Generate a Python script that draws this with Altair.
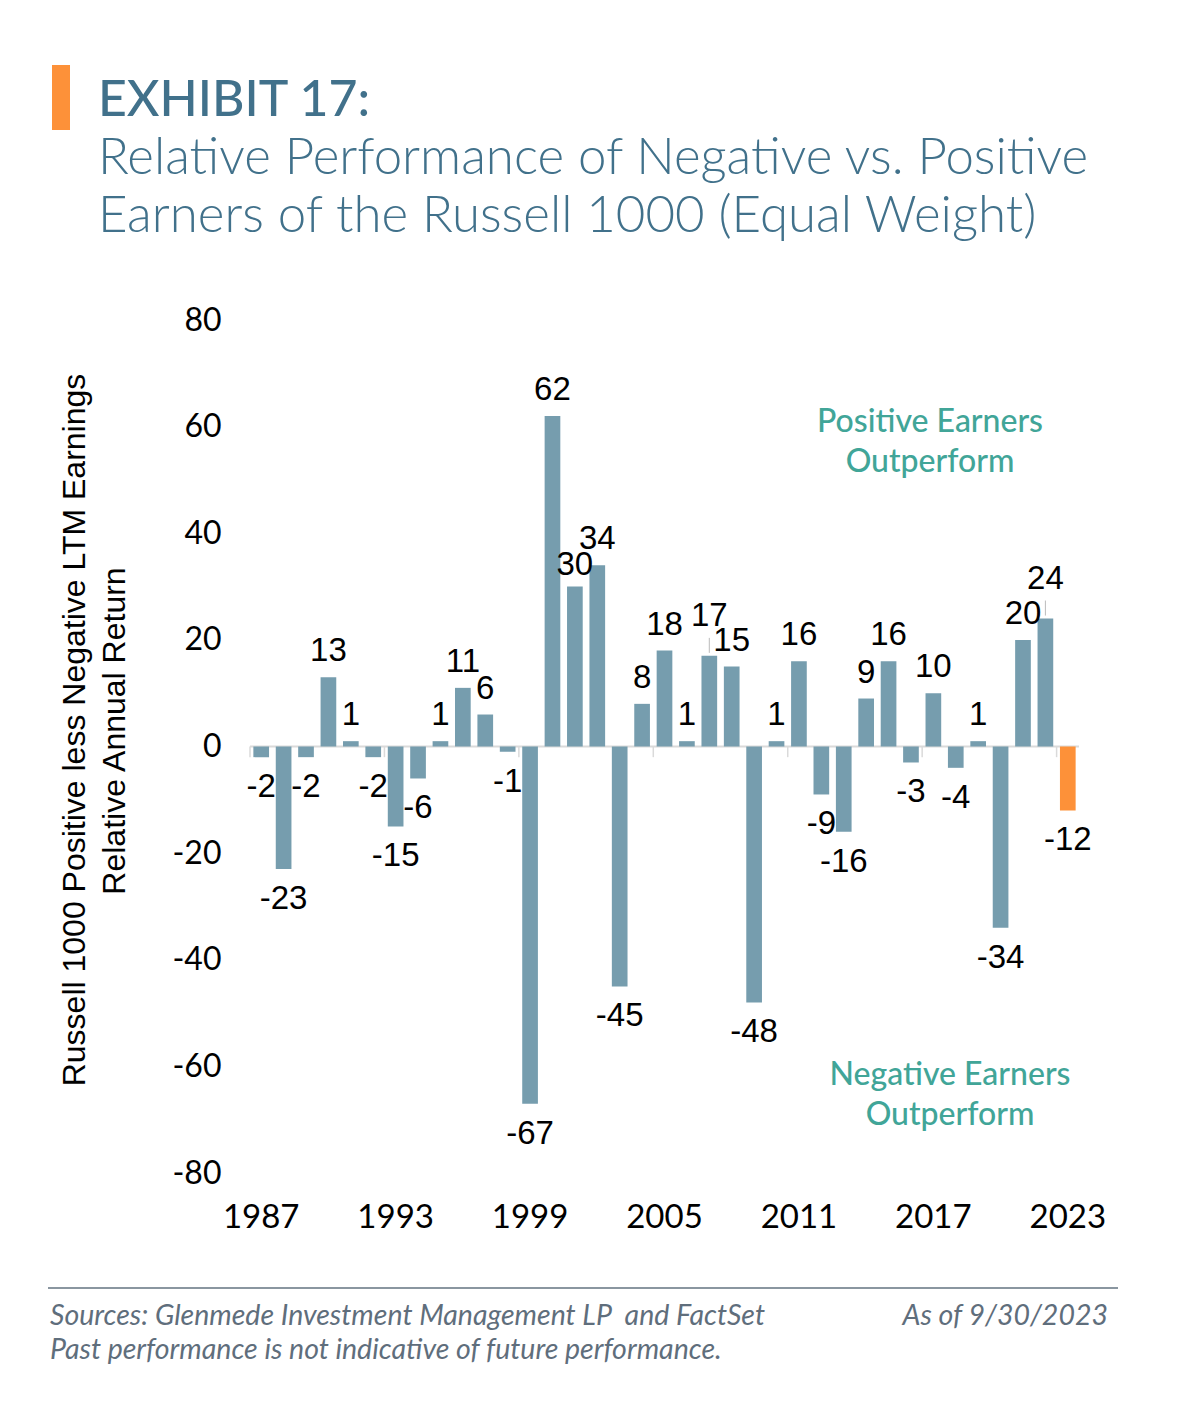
import altair as alt
import pandas as pd

# ---------------- data ----------------
years = list(range(1987, 2024))
values = [-2, -23, -2, 13, 1, -2, -15, -6, 1, 11, 6, -1, -67, 62, 30, 34, -45, 8, 18, 1,
          17, 15, -48, 1, 16, -9, -16, 9, 16, -3, 10, -4, 1, -34, 20, 24, -12]
x_tick_years = [1987, 1993, 1999, 2005, 2011, 2017, 2023]
y_tick_values = [-80, -60, -40, -20, 0, 20, 40, 60, 80]
highlight_year = 2023
lifted_label_years = [2007, 2022]   # labels drawn a bit higher to avoid overlaps
lowered_label_years = [2001]        # label drawn a bit lower

title_text = "EXHIBIT 17:"
subtitle_lines = ["Relative Performance of Negative vs. Positive",
                  "Earners of the Russell 1000 (Equal Weight)"]
y_title_lines = ["Russell 1000 Positive less Negative LTM Earnings",
                 "Relative Annual Return"]
pos_note = ["Positive Earners", "Outperform"]
neg_note = ["Negative Earners", "Outperform"]
source_line = "Sources: Glenmede Investment Management LP\u00a0 and FactSet"
disclaimer_line = "Past performance is not indicative of future performance."
asof_line = "As of 9/30/2023"

# ---------------- styles ----------------
BAR = "#769dae"
ORANGE = "#fd9139"
TITLE_C = "#41718b"
TEAL = "#41a598"
FOOT_C = "#5f6e7c"
ZERO_C = "#dadada"

df = pd.DataFrame({"year": years, "value": values})
df["label"] = df["value"].astype(str)

x_enc = alt.X("year:O",
              scale=alt.Scale(paddingInner=0.3, paddingOuter=0.15),
              axis=alt.Axis(values=x_tick_years, labelAngle=0, labelAlign="center",
                            ticks=False, domain=False,
                            labelFont="Lato", labelFontSize=33, labelColor="black",
                            labelPadding=44, title=None))
y_enc = alt.Y("value:Q",
              scale=alt.Scale(domain=[-80, 80], nice=False, zero=False),
              axis=alt.Axis(values=y_tick_values, grid=False, domain=False, ticks=False,
                            labelFont="Lato", labelFontSize=32, labelColor="black",
                            labelExpr="datum.value + ''",
                            labelPadding=29, title=None))

base = alt.Chart(df)

bars = base.mark_bar().encode(
    x=x_enc, y=y_enc,
    color=alt.condition(alt.datum.year == highlight_year, alt.value(ORANGE), alt.value(BAR)),
)

zero_line = alt.Chart(pd.DataFrame({"value": [0]})).mark_rule(
    color=ZERO_C, strokeWidth=2).encode(y="value:Q")

tick_df = pd.DataFrame({"year": x_tick_years, "value": [0] * len(x_tick_years),
                        "v2": [-2] * len(x_tick_years)})
ticks = alt.Chart(tick_df).mark_rule(color=ZERO_C, strokeWidth=1.5, xOffset=-11.2).encode(
    x="year:O", y="value:Q", y2="v2:Q")

lab_style = dict(font="Liberation Sans", fontSize=33, color="black", baseline="middle")
special = lifted_label_years + lowered_label_years
is_special = alt.FieldOneOfPredicate(field="year", oneOf=special)
pos_labels = base.transform_filter(alt.datum.value >= 0).transform_filter(
    ~is_special).mark_text(dy=-26, **lab_style).encode(x="year:O", y="value:Q", text="label:N")
lifted_labels = base.transform_filter(
    alt.FieldOneOfPredicate(field="year", oneOf=lifted_label_years)).mark_text(
    dy=-40, **lab_style).encode(x="year:O", y="value:Q", text="label:N")
lowered_labels = base.transform_filter(
    alt.FieldOneOfPredicate(field="year", oneOf=lowered_label_years)).mark_text(
    dy=-22, **lab_style).encode(x="year:O", y="value:Q", text="label:N")
neg_labels = base.transform_filter(alt.datum.value < 0).mark_text(dy=30, **lab_style).encode(
    x="year:O", y="value:Q", text="label:N")
leaders = base.transform_filter(
    alt.FieldOneOfPredicate(field="year", oneOf=lifted_label_years)).mark_rule(
    color="#bbbbbb", strokeWidth=1, yOffset=-3, y2Offset=-18).encode(
    x="year:O", y="value:Q", y2="value:Q")


def txt(s, x, y, **kw):
    return alt.Chart(pd.DataFrame({"t": [s]})).mark_text(**kw).encode(
        text="t:N", x=alt.value(x), y=alt.value(y))


# plot origin is at page (250, 320)
orange_bar = alt.Chart(pd.DataFrame({"a": [0]})).mark_rect(color=ORANGE).encode(
    x=alt.value(-198), x2=alt.value(-180), y=alt.value(-255), y2=alt.value(-190))

title = txt(title_text, -152, -204, font="Lato", fontSize=50, fontWeight=500,
            color=TITLE_C, align="left", baseline="alphabetic")
sub1 = txt(subtitle_lines[0], -152, -146, font="Lato", fontSize=51, fontWeight=300,
           color=TITLE_C, align="left", baseline="alphabetic")
sub2 = txt(subtitle_lines[1], -152, -88, font="Lato", fontSize=51, fontWeight=300,
           color=TITLE_C, align="left", baseline="alphabetic")

ytitle1 = txt(y_title_lines[0], -175, 410, font="Liberation Sans", fontSize=32, angle=270,
              color="black", align="center", baseline="middle")
ytitle2 = txt(y_title_lines[1], -135, 411, font="Liberation Sans", fontSize=32, angle=270,
              color="black", align="center", baseline="middle")

note_style = dict(font="Lato", fontSize=32, fontWeight=500, color=TEAL, align="center",
                  baseline="middle")
pn1 = txt(pos_note[0], 680, 102, **note_style)
pn2 = txt(pos_note[1], 680, 142, **note_style)
nn1 = txt(neg_note[0], 700, 755, **note_style)
nn2 = txt(neg_note[1], 700, 795, **note_style)

foot_rule = alt.Chart(pd.DataFrame({"a": [0]})).mark_rule(color="#8a96a0", strokeWidth=2).encode(
    x=alt.value(-202), x2=alt.value(868), y=alt.value(968))
foot_style = dict(font="Lato", fontSize=28.5, fontStyle="italic", color=FOOT_C, baseline="middle")
f1 = txt(source_line, -200, 996, align="left", **foot_style)
f2 = txt(disclaimer_line, -200, 1030, align="left", **foot_style)
f3 = txt(asof_line, 858, 996, align="right", **foot_style)

chart = alt.layer(
    zero_line, ticks, bars, leaders, pos_labels, lifted_labels, lowered_labels, neg_labels,
    orange_bar, title, sub1, sub2, ytitle1, ytitle2, pn1, pn2, nn1, nn2,
    foot_rule, f1, f2, f3,
).properties(
    width=829, height=853,
    autosize=alt.AutoSizeParams(type="none"),
    padding={"left": 250, "top": 320, "right": 100, "bottom": 239},
    background="white",
).configure_view(stroke=None)

chart.save("out.html", embed_options={"renderer": "svg", "actions": False})
